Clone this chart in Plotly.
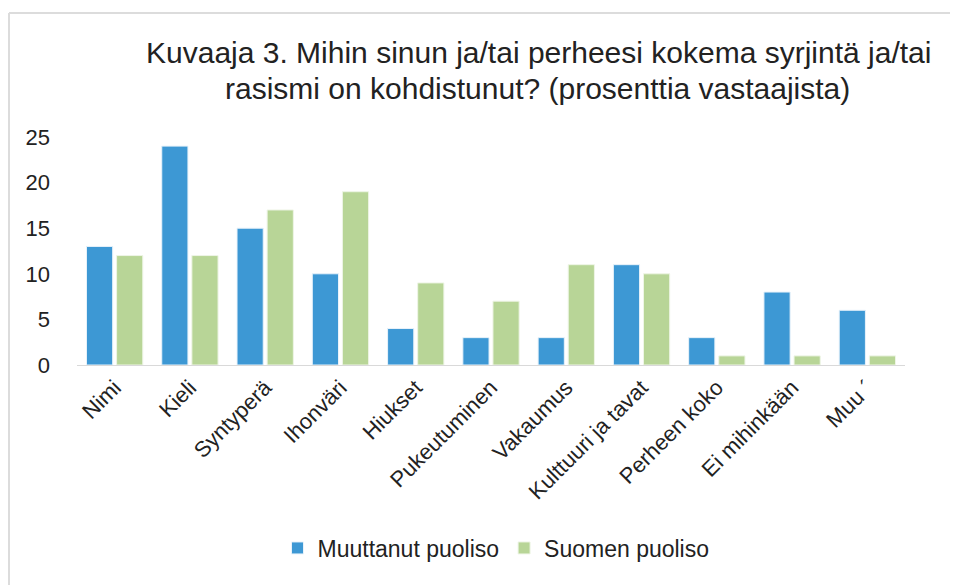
import plotly.graph_objects as go

categories = ["Nimi", "Kieli", "Syntyperä", "Ihonväri", "Hiukset", "Pukeutuminen",
              "Vakaumus", "Kulttuuri ja tavat", "Perheen koko", "Ei mihinkään", "Muu ´"]
muuttanut = [13, 24, 15, 10, 4, 3, 3, 11, 3, 8, 6]
suomen = [12, 12, 17, 19, 9, 7, 11, 10, 1, 1, 1]
y_ticks = [0, 5, 10, 15, 20, 25]
title_lines = ["Kuvaaja 3. Mihin sinun ja/tai perheesi kokema syrjintä ja/tai",
               "rasismi on kohdistunut? (prosenttia vastaajista)"]

FONT = "Liberation Sans, Arial, sans-serif"
W, H = 950, 577
L, R, T, B = 69, 53, 129, 220
PW, PH = W - L - R, H - T - B


def px(x):
    return (x - L) / PW


def py(y):
    return (H - B - y) / PH


fig = go.Figure()
fig.add_trace(go.Bar(x=categories, y=muuttanut, name="Muuttanut puoliso",
                     marker=dict(color="#3d98d4", line=dict(color="#e8f2fa", width=1))))
fig.add_trace(go.Bar(x=categories, y=suomen, name="Suomen puoliso",
                     marker=dict(color="#b8d597", line=dict(color="#eef5e6", width=1))))

fig.update_layout(
    width=W, height=H,
    paper_bgcolor="white", plot_bgcolor="white",
    margin=dict(l=L, r=R, t=T, b=B),
    barmode="group", bargap=0.2, bargroupgap=0.13,
    font=dict(family=FONT, color="#222"),
    annotations=[
        dict(text=title_lines[0], xref="paper", yref="paper", x=px(530), y=py(45),
             xanchor="center", yanchor="middle", showarrow=False,
             font=dict(size=30, family=FONT, color="#222")),
        dict(text=title_lines[1], xref="paper", yref="paper", x=px(529), y=py(80),
             xanchor="center", yanchor="middle", showarrow=False,
             font=dict(size=30, family=FONT, color="#222")),
    ],
    legend=dict(orientation="h", x=px(488), xanchor="center", y=py(540), yanchor="middle",
                font=dict(size=23, family=FONT, color="#222"), itemwidth=30, traceorder="normal"),
    xaxis=dict(showline=True, linecolor="#d9d9d9", linewidth=1, ticks="", tickangle=-45,
               tickfont=dict(size=22, family=FONT, color="#222")),
    yaxis=dict(range=[0, 25], tickvals=y_ticks, showgrid=False, zeroline=False, showline=False,
               ticks="", ticklabelstandoff=26,
               tickfont=dict(size=22, family=FONT, color="#222")),
    shapes=[dict(type="line", xref="paper", yref="paper", x0=px(1), x1=px(W + 10), y0=py(5), y1=py(5),
                 line=dict(color="#dcdcdc", width=2)),
            dict(type="line", xref="paper", yref="paper", x0=px(1), x1=px(1), y0=py(5), y1=py(H + 10),
                 line=dict(color="#dcdcdc", width=2))],
)

fig.write_html("out.html")
